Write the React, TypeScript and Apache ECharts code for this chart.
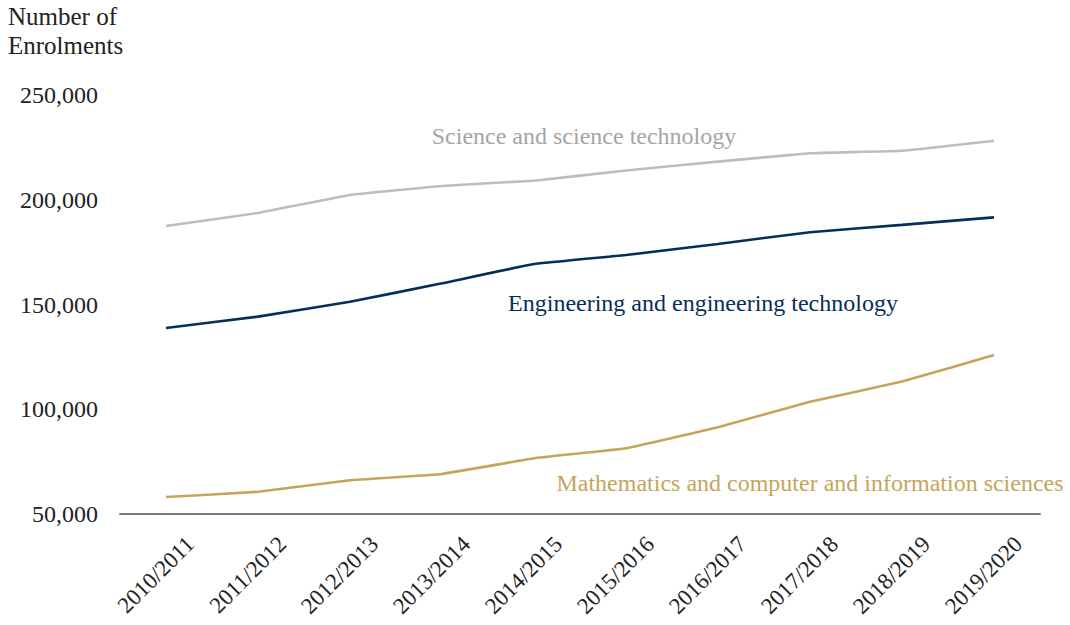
import React, { useEffect, useRef } from "react";
import * as echarts from "echarts";

const categories = [
  "2010/2011", "2011/2012", "2012/2013", "2013/2014", "2014/2015",
  "2015/2016", "2016/2017", "2017/2018", "2018/2019", "2019/2020",
];
const science = [187500, 193700, 202300, 206600, 209100, 214000, 218200, 222200, 223400, 228200];
const engineering = [138800, 144200, 151300, 160100, 169300, 173600, 178900, 184500, 188000, 191600];
const maths = [58100, 60600, 66100, 69100, 76600, 81400, 91400, 103600, 113200, 125900];
const yTicks = { min: 50000, max: 250000, interval: 50000 };

const FONT = "'Liberation Serif', 'DejaVu Serif', serif";
const GRAY = "#BDBDBD";
const GRAY_TEXT = "#A5A5A5";
const NAVY = "#062E5B";
const GOLD = "#C6A55B";

export default function App() {
  const ref = useRef<HTMLDivElement>(null);
  useEffect(() => {
    document.body.style.margin = "0";
    const chart = echarts.init(ref.current!, null, { renderer: "svg" });
    const mkLine = (name: string, data: number[], color: string) => ({
      name,
      type: "line",
      data,
      smooth: 0.08,
      symbol: "none",
      lineStyle: { color, width: 2.6 },
    });
    const ann = (text: string, x: number, y: number, fill: string) => ({
      type: "text",
      x,
      y,
      style: {
        text,
        fontFamily: FONT,
        fontSize: 24,
        fill,
        align: "center",
        verticalAlign: "middle",
      },
    });
    chart.setOption({
      animation: false,
      textStyle: { fontFamily: FONT },
      grid: { left: 120, right: 30, top: 95, bottom: 111 },
      xAxis: {
        type: "category",
        data: categories,
        boundaryGap: true,
        axisLine: { lineStyle: { color: "#7A7A7A", width: 2 } },
        axisTick: { show: false },
        axisLabel: {
          rotate: 45,
          interval: 0,
          margin: 2,
          fontFamily: FONT,
          fontSize: 23,
          color: "#222",
          verticalAlign: "top",
          padding: [23, 0, 0, 0],
        },
      },
      yAxis: {
        type: "value",
        min: yTicks.min,
        max: yTicks.max,
        interval: yTicks.interval,
        splitLine: { show: false },
        axisLine: { show: false },
        axisTick: { show: false },
        axisLabel: {
          margin: 22,
          fontFamily: FONT,
          fontSize: 24,
          color: "#222",
          formatter: (v: number) => v.toLocaleString("en-US"),
        },
      },
      graphic: [
        {
          type: "text",
          left: 8,
          top: 2,
          style: {
            text: "Number of\nEnrolments",
            fontFamily: FONT,
            fontSize: 25,
            lineHeight: 29,
            fill: "#222",
          },
        },
        ann("Science and science technology", 584, 136, GRAY_TEXT),
        ann("Engineering and engineering technology", 703, 303, NAVY),
        ann("Mathematics and computer and information sciences", 810, 483, GOLD),
      ],
      series: [
        mkLine("Science and science technology", science, GRAY),
        mkLine("Engineering and engineering technology", engineering, NAVY),
        mkLine("Mathematics and computer and information sciences", maths, GOLD),
      ],
    });
    return () => chart.dispose();
  }, []);
  return <div ref={ref} style={{ width: 1070, height: 625 }} />;
}
